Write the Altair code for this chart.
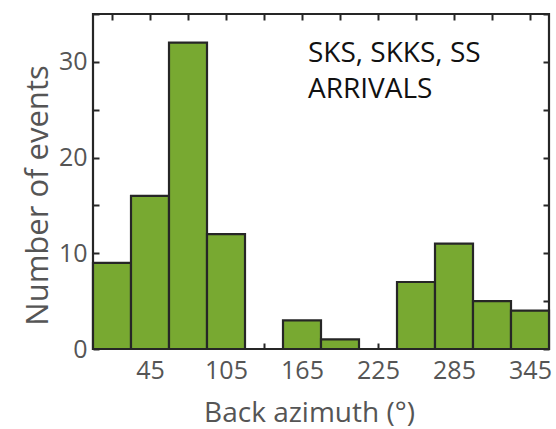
import altair as alt
import pandas as pd

bin_start = [0, 30, 60, 90, 120, 150, 180, 210, 240, 270, 300, 330]
bin_end = [30, 60, 90, 120, 150, 180, 210, 240, 270, 300, 330, 360]
counts = [9, 16, 32, 12, 0, 3, 1, 0, 7, 11, 5, 4]

x_ticks = [15, 45, 75, 105, 135, 165, 195, 225, 255, 285, 315, 345]
x_labels = [45, 105, 165, 225, 285, 345]
y_ticks = [0, 5, 10, 15, 20, 25, 30, 35]
y_labels = [0, 10, 20, 30]
annotation = ["SKS, SKKS, SS", "ARRIVALS"]

df = pd.DataFrame({"start": bin_start, "end": bin_end, "count": counts})

FONT = "Open Sans"
GRAY = "#555555"
DARK = "#262626"


def label_expr(vals):
    return "indexof([" + ",".join(str(v) for v in vals) + "], datum.value) >= 0 ? datum.label : ''"


xscale = alt.Scale(domain=[0, 360], nice=False, zero=False)
yscale = alt.Scale(domain=[0, 35], nice=False)

tick_in = {"expr": "-6"}

bars = alt.Chart(df).mark_bar(
    color="#78a931", stroke=DARK, strokeWidth=2.2, opacity=1
).encode(
    x=alt.X("start:Q", scale=xscale, axis=alt.Axis(
        orient="bottom", values=x_ticks, labelExpr=label_expr(x_labels),
        tickSize=tick_in, labelPadding=35, labelBaseline="alphabetic",
        title="Back azimuth (°)", titleX=216, titleY=72, titleFontSize=28,
        titleBaseline="alphabetic", titleAlign="center", titleAnchor="start")),
    x2="end:Q",
    y=alt.Y("count:Q", scale=yscale, axis=alt.Axis(
        orient="left", values=y_ticks, labelExpr=label_expr(y_labels),
        tickSize=tick_in, labelPadding=12, title="Number of events",
        titleX=-46, titleY=181, titleBaseline="alphabetic",
        titleAlign="center", titleAnchor="start", titleFontSize=31)),
    y2=alt.datum(0),
)

mirror = alt.Chart(df).mark_point(opacity=0).encode(
    x=alt.X("start:Q", scale=xscale, axis=alt.Axis(
        orient="top", values=x_ticks, labels=False, tickSize=tick_in, title=None)),
    y=alt.Y("count:Q", scale=yscale, axis=alt.Axis(
        orient="right", values=y_ticks, labels=False, tickSize=tick_in, title=None)),
)

text = alt.Chart(pd.DataFrame({"t": [annotation]})).mark_text(
    align="left", baseline="alphabetic", font=FONT, fontSize=28, color="#111111",
    lineHeight=36
).encode(
    x=alt.value(215), y=alt.value(48), text="t"
)

chart = alt.layer(bars, mirror, text).resolve_axis(
    x="independent", y="independent"
).properties(
    width=456, height=335,
    autosize=alt.AutoSizeParams(type="none"),
    padding={"left": 93, "top": 14, "right": 7, "bottom": 80},
).configure_view(
    stroke=DARK, strokeWidth=2.2
).configure_axis(
    grid=False, domain=False, tickColor=DARK, tickWidth=2,
    labelFont=FONT, labelFontSize=25, labelColor=GRAY,
    titleFont=FONT, titleFontSize=30, titleColor=GRAY, titleFontWeight="normal",
)

chart.save("out.html", embed_options={"renderer": "svg", "actions": False})
